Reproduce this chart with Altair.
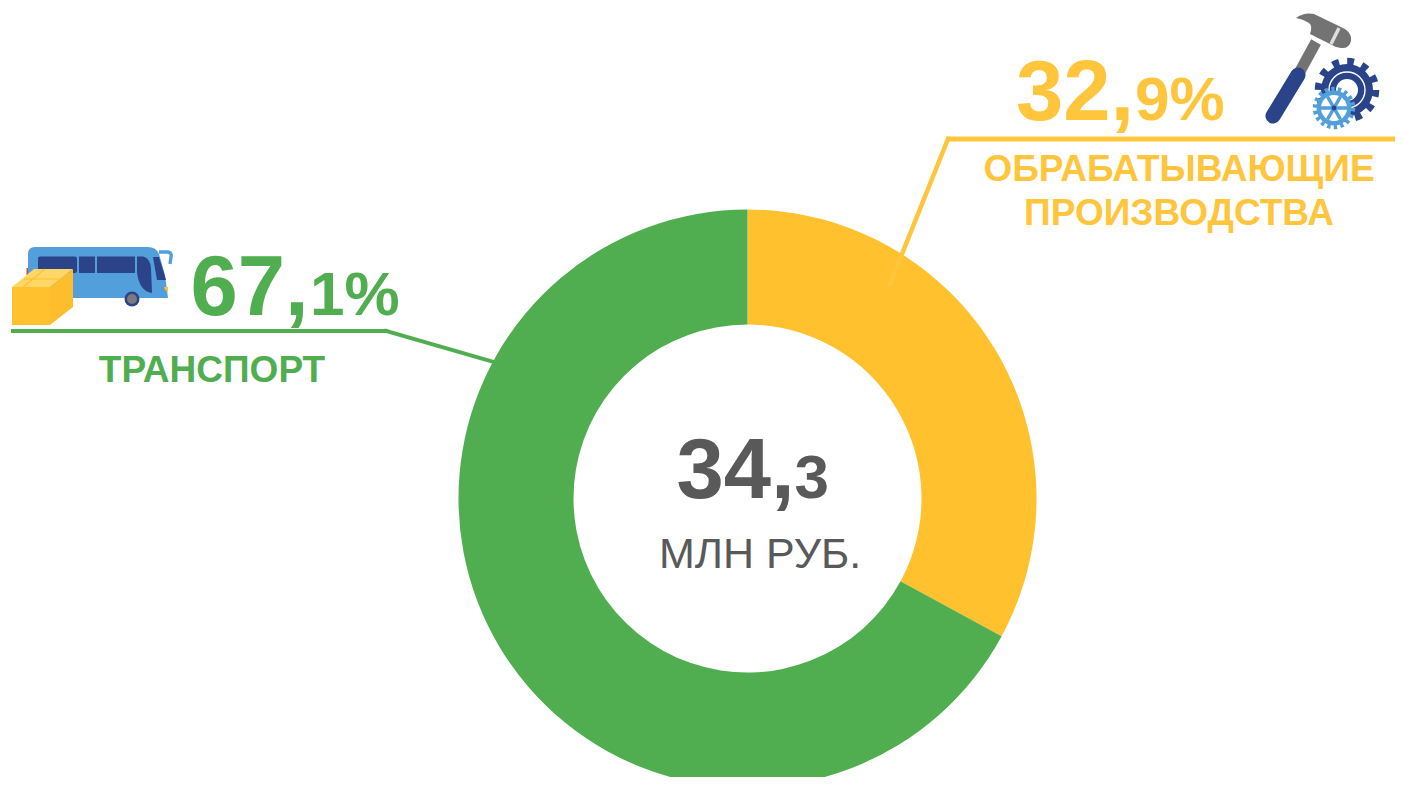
import base64
import altair as alt
import pandas as pd

sectors = ["Обрабатывающие производства", "Транспорт"]
shares = [32.9, 67.1]
ranks = [1, 2]
colours = ["#FFC12D", "#50AE50"]

YEL = "#FFC53D"
GRN = "#50AE50"
GREY = "#595959"
FONT = "Liberation Sans"
OFF = 8  # page margin: reference pixel minus this is chart pixel


def X(v):
    return alt.value(v - OFF)


def Y(v):
    return alt.value(v - OFF)


blank = pd.DataFrame({"a": [0]})


def txt(s, x, y, size, col, bold=True, align="left"):
    return alt.Chart(blank).mark_text(
        font=FONT, fontSize=size, fontWeight="bold" if bold else "normal",
        color=col, align=align, baseline="alphabetic",
    ).encode(x=X(x), y=Y(y), text=alt.value(s))


def rule(x1, y1, x2, y2, col, w):
    return alt.Chart(blank).mark_rule(color=col, strokeWidth=w, strokeCap="square").encode(
        x=X(x1), y=Y(y1), x2=X(x2), y2=Y(y2))


def uri(svg):
    return "data:image/svg+xml;base64," + base64.b64encode(svg.encode()).decode()


NAVY = "#2A4389"
BLUE = "#529FDB"
BUS = f'''<svg xmlns="http://www.w3.org/2000/svg" width="170" height="90" viewBox="10 240 170 90">
<rect x="26.5" y="268" width="3" height="7" fill="#D9434E"/>
<path d="M28 254 Q28 247 35 247 L148 247 Q156 247 159 254 L165 275 L168 298 L28 298 Z" fill="{BLUE}"/>
<path d="M159 252 L168 252 Q172 253 171 257 L170 264" fill="none" stroke="{BLUE}" stroke-width="3.4"/>
<rect x="38" y="256.5" width="39" height="16.5" rx="2" fill="{NAVY}"/>
<rect x="79" y="256.5" width="16" height="16.5" fill="{NAVY}"/>
<rect x="97" y="256.5" width="38" height="16.5" fill="{NAVY}"/>
<path d="M137 256.5 L143 256.5 Q150 258 151 268 L152 293 Q139 291 137 272 Z" fill="{NAVY}"/>
<path d="M153 257 L159 257 L166 280 L157 280 Z" fill="{NAVY}"/>
<path d="M164 287 L168 287 L168 292 Q165 291 164 287 Z" fill="#FFC12D"/>
<circle cx="132" cy="299" r="7.5" fill="{NAVY}"/>
<circle cx="132" cy="299" r="5" fill="#7A7A7A"/>
<path d="M12 287 L50 287 L50 325 L12 325 Z" fill="#FFC12D"/>
<path d="M50 287 L73 269 L73 307 L50 325 Z" fill="#FDBD2C"/>
<path d="M12 287 L34 269 L73 269 L50 287 Z" fill="#FFD766"/>
<path d="M23 287 L45 269 M24 279 L62 279" stroke="#FFC12D" stroke-width="1.2" fill="none"/>
</svg>'''

TOOLS = f'''<svg xmlns="http://www.w3.org/2000/svg" width="130" height="125" viewBox="1255 5 130 125">
<path d="M1298 75 L1316 42" stroke="#737373" stroke-width="11"/>
<path d="M1273 116 L1298 75" stroke="{NAVY}" stroke-width="15" stroke-linecap="round"/>
<path d="M1296 18 Q1304 12 1314 14 L1345 29 Q1352 34 1351 41 Q1349 49 1341 48 L1336 47 L1310 34 Q1313 26 1309 23 Q1303 19 1296 18 Z" fill="#737373"/>
<path d="M1339 28 L1331 44" stroke="#DEDEDE" stroke-width="3.5"/>
<circle cx="1347" cy="90" r="26" fill="{NAVY}"/>
<circle cx="1347" cy="90" r="28" fill="none" stroke="{NAVY}" stroke-width="8.5" stroke-dasharray="6.6 8.06"/>
<circle cx="1347" cy="90" r="18" fill="none" stroke="#fff" stroke-width="1.4"/>
<circle cx="1347" cy="90" r="11" fill="#fff"/>
<circle cx="1334" cy="108" r="17.5" fill="{BLUE}"/>
<circle cx="1334" cy="108" r="19" fill="none" stroke="{BLUE}" stroke-width="4.5" stroke-dasharray="3.4 3.23"/>
<circle cx="1334" cy="108" r="13" fill="#fff"/>
<path d="M1321 108 L1347 108 M1327.5 96.7 L1340.5 119.3 M1340.5 96.7 L1327.5 119.3" stroke="{BLUE}" stroke-width="3.4"/>
<circle cx="1334" cy="108" r="2.4" fill="{NAVY}"/>
</svg>'''


def icon(svg, x, y, w, h):
    return alt.Chart(pd.DataFrame({"u": [uri(svg)]})).mark_image(
        width=w, height=h, align="left", baseline="top"
    ).encode(x=X(x), y=Y(y), url="u:N")


df = pd.DataFrame({"sector": sectors, "share": shares, "rank": ranks})
donut = alt.Chart(df).mark_arc(radius=289, radius2=174).encode(
    x=X(747.5), y=Y(498.5),
    theta=alt.Theta("share:Q", stack=True, scale=alt.Scale(domain=[0, 100], range=[0, 6.283185307])),
    order=alt.Order("rank:O"),
    color=alt.Color("sector:N", legend=None,
                    scale=alt.Scale(domain=sectors, range=colours)),
)

layers = [
    donut,
    rule(950, 139, 1403, 139, YEL, 5),
    rule(948, 139, 890, 284, YEL, 4.5),
    rule(13, 331, 386, 331, GRN, 4),
    rule(386, 331, 494, 362, GRN, 4),
    txt("32,", 1016, 120, 85, YEL),
    txt("9%", 1135, 120, 62, YEL),
    txt("ОБРАБАТЫВАЮЩИЕ", 1179, 181, 37, YEL, align="center"),
    txt("ПРОИЗВОДСТВА", 1179, 225, 37, YEL, align="center"),
    txt("67,", 190.5, 315, 85, GRN),
    txt("1%", 310, 315, 62, GRN),
    txt("ТРАНСПОРТ", 212, 382, 37, GRN, align="center"),
    txt("34,", 676.5, 498, 85, GREY),
    txt("3", 794.5, 498, 62, GREY),
    txt("МЛН РУБ.", 760, 568, 43, GREY, bold=False, align="center"),
    icon(BUS, 10, 240, 170, 90),
    icon(TOOLS, 1255, 5, 130, 125),
]

chart = alt.layer(*layers).properties(
    width=1387, height=769, padding=0, autosize=alt.AutoSizeParams(type="none"),
    background="white",
).configure_view(stroke=None)

chart.save("out.html", embed_options={"renderer": "svg", "actions": False})
